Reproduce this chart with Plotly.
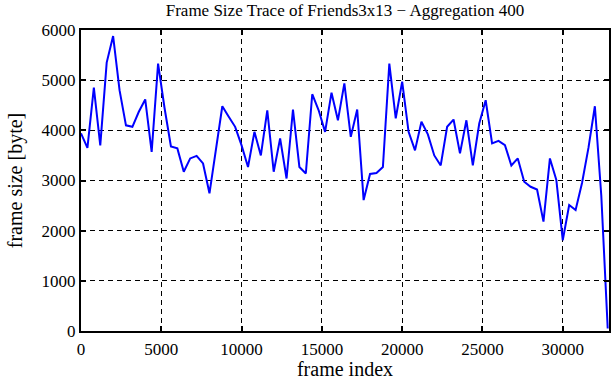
import plotly.graph_objects as go

# frame index (aggregation of 400 frames)
frame_index = [i * 400 for i in range(83)]
frame_size = [
    3940, 3650, 4850, 3700, 5350, 5880, 4800, 4100, 4070, 4370,
    4615, 3570, 5330, 4450, 3680, 3640, 3175, 3440, 3490, 3340,
    2745, 3620, 4480, 4270, 4070, 3700, 3270, 3970, 3500, 4400,
    3175, 3840, 3040, 4415, 3270, 3140, 4720, 4400, 3970, 4750,
    4200, 4935, 3870, 4415, 2610, 3130, 3150, 3270, 5330, 4240,
    4970, 3970, 3600, 4170, 3920, 3500, 3300, 4070, 4215, 3540,
    4200, 3300, 4135, 4600, 3740, 3790, 3705, 3300, 3440, 2975,
    2875, 2820, 2180, 3440, 3010, 1810, 2510, 2410, 2950, 3650,
    4480, 2700, 50,
]
x_ticks = [0, 5000, 10000, 15000, 20000, 25000, 30000]
y_ticks = [0, 1000, 2000, 3000, 4000, 5000, 6000]

fig = go.Figure()
fig.add_trace(go.Scatter(
    x=frame_index, y=frame_size, mode="lines",
    line=dict(color="#0000ff", width=2),
    showlegend=False,
))

font = dict(family="Liberation Serif, Times New Roman, serif", size=17, color="black")
axis_common = dict(
    showline=True, linecolor="black", linewidth=2, mirror="ticks",
    ticks="inside", ticklen=5, tickwidth=2, tickcolor="black",
    showgrid=True, gridcolor="black", gridwidth=1, griddash="5px,4px",
    zeroline=False, tickfont=font, automargin=False,
)
fig.update_layout(
    width=611, height=380,
    margin=dict(l=81, r=2, t=30, b=49, autoexpand=False),
    paper_bgcolor="white", plot_bgcolor="white",
    font=font,
    title=dict(text="Frame Size Trace of Friends3x13 \u2212 Aggregation 400",
               x=0.5, xref="paper", y=0.99, yref="container",
               xanchor="center", yanchor="top", automargin=False,
               font=dict(family="Liberation Serif, serif", size=17)),
    xaxis=dict(range=[0, 32880], tickvals=x_ticks,
               ticktext=[str(v) for v in x_ticks], ticklabelstandoff=2,
               title=dict(text="frame index", standoff=9), **axis_common),
    yaxis=dict(range=[0, 6000], tickvals=y_ticks,
               ticktext=[str(v) for v in y_ticks],
               title=dict(text="frame size [byte]", standoff=14), **axis_common),
)
fig.write_html("out.html", config={"displayModeBar": False},
               post_script="document.body.style.margin='0';document.body.style.padding='0';")
